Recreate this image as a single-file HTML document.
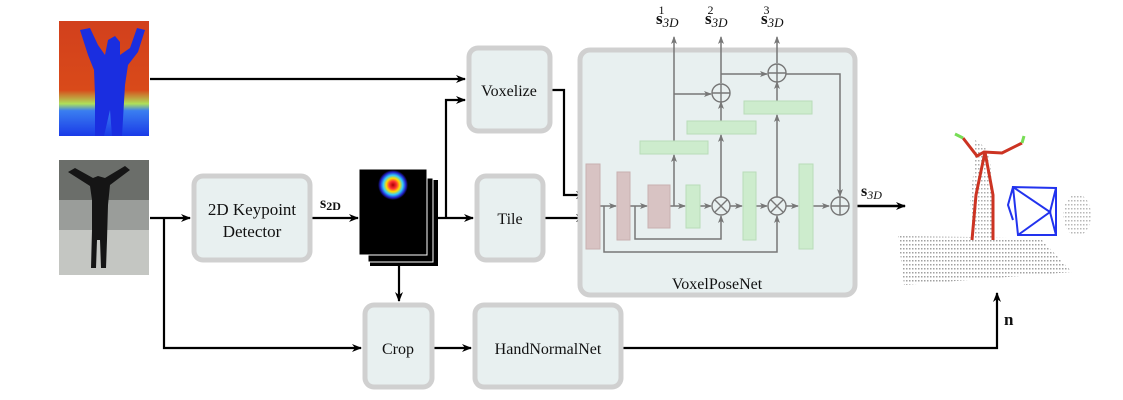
<!DOCTYPE html>
<html><head><meta charset="utf-8"><style>
html,body{margin:0;padding:0;background:#fff;}
svg{display:block;}
text{font-family:"Liberation Serif",serif;fill:#111;}
</style></head><body>
<svg width="1123" height="400" viewBox="0 0 1123 400" xmlns="http://www.w3.org/2000/svg">
<defs>
<marker id="a" markerWidth="10" markerHeight="8" refX="9" refY="4" orient="auto" markerUnits="userSpaceOnUse"><path d="M0,0 L10,4 L0,8 L3,4 z" fill="#000"/></marker>
<marker id="g" markerWidth="8" markerHeight="6" refX="7" refY="3" orient="auto" markerUnits="userSpaceOnUse"><path d="M0,0 L8,3 L0,6 L2,3 z" fill="#777"/></marker>
<radialGradient id="hm"><stop offset="0" stop-color="#a00"/><stop offset="0.25" stop-color="#f33"/><stop offset="0.45" stop-color="#fd0"/><stop offset="0.65" stop-color="#3cf"/><stop offset="0.85" stop-color="#22c"/><stop offset="1" stop-color="#000"/></radialGradient>
<linearGradient id="dep" x1="0" y1="0" x2="0" y2="1"><stop offset="0" stop-color="#d2401c"/><stop offset="0.6" stop-color="#d94a1a"/><stop offset="0.72" stop-color="#aee05a"/><stop offset="0.78" stop-color="#3a7ef0"/><stop offset="1" stop-color="#1a3ae8"/></linearGradient>
<pattern id="dots" width="3" height="4" patternUnits="userSpaceOnUse"><rect width="1.5" height="1.5" fill="#888"/></pattern>
</defs>
<!-- depth image -->
<rect x="59" y="21" width="90" height="115" fill="url(#dep)"/>
<path d="M80,30 L90,28 L98,45 L105,55 L108,40 L115,36 L120,42 L120,55 L130,48 L137,28 L145,30 L138,52 L128,65 L125,85 L122,136 L112,136 L110,110 L104,136 L95,136 L95,95 L94,70 L88,55 Z" fill="#1a2ee0"/>
<!-- rgb image -->
<rect x="59" y="160" width="90" height="115" fill="#9a9d9a"/>
<rect x="59" y="160" width="90" height="40" fill="#6b6e6a"/>
<rect x="59" y="230" width="90" height="45" fill="#c4c6c2"/>
<path d="M68,172 L75,168 L93,178 L98,176 L105,178 L125,166 L130,170 L110,185 L108,205 L107,240 L106,268 L101,268 L100,240 L97,240 L96,268 L91,268 L92,230 L92,200 L90,186 Z" fill="#151515"/>
<!-- connectors -->
<g stroke="#000" stroke-width="2.2" fill="none">
<path d="M150,79 H465" marker-end="url(#a)"/>
<path d="M150,218 H190" marker-end="url(#a)"/>
<path d="M164,218 V348 H361" marker-end="url(#a)"/>
<path d="M312,218 H358" marker-end="url(#a)"/>
<path d="M438,218 H473" marker-end="url(#a)"/>
<path d="M446,218 V100 H465" marker-end="url(#a)"/>
<path d="M552,90 H564 V195 H585" marker-end="url(#a)"/>
<path d="M544,218 H585" marker-end="url(#a)"/>
<path d="M399,266 V301" marker-end="url(#a)"/>
<path d="M434,348 H471" marker-end="url(#a)"/>
<path d="M623,348 H997 V293" marker-end="url(#a)"/>
<path d="M848,206 H905" stroke-width="2.6" marker-end="url(#a)"/>
</g>
<!-- boxes -->
<g fill="#e8f0f0" stroke="#d0d0d0" stroke-width="5">
<rect x="194" y="176" width="116" height="84" rx="9"/>
<rect x="469" y="48" width="81" height="83" rx="9"/>
<rect x="477" y="176" width="66" height="84" rx="9"/>
<rect x="580" y="50" width="275" height="245" rx="10"/>
<rect x="365" y="305" width="67" height="82" rx="9"/>
<rect x="475" y="305" width="146" height="82" rx="9"/>
</g>
<text x="252" y="215" font-size="17" text-anchor="middle">2D Keypoint</text>
<text x="252" y="237" font-size="17" text-anchor="middle">Detector</text>
<text x="509" y="96" font-size="16" text-anchor="middle">Voxelize</text>
<text x="510" y="224" font-size="16" text-anchor="middle">Tile</text>
<text x="398" y="354" font-size="16" text-anchor="middle">Crop</text>
<text x="548" y="354" font-size="16" text-anchor="middle">HandNormalNet</text>
<text x="717" y="289" font-size="16" text-anchor="middle">VoxelPoseNet</text>
<text x="320" y="208" font-size="16" font-weight="bold">s<tspan font-size="12" dy="2">2D</tspan></text>
<!-- heatmap stack -->
<rect x="370" y="180" width="68" height="86" fill="#000"/>
<rect x="368" y="178" width="65" height="84" fill="#000" stroke="#fff" stroke-width="1"/>
<rect x="359" y="169" width="68" height="86" fill="#000" stroke="#fff" stroke-width="1"/>
<circle cx="393" cy="185" r="15" fill="url(#hm)"/>
<!-- VoxelPoseNet internals -->
<g stroke="#777" stroke-width="1.5" fill="none">
<path d="M600,206 H616" marker-end="url(#g)"/>
<path d="M630,206 H647" marker-end="url(#g)"/>
<path d="M670,206 H685" marker-end="url(#g)"/>
<path d="M700,206 H711" marker-end="url(#g)"/>
<path d="M730,206 H742" marker-end="url(#g)"/>
<path d="M756,206 H767" marker-end="url(#g)"/>
<path d="M786,206 H798" marker-end="url(#g)"/>
<path d="M813,206 H829" marker-end="url(#g)"/>
<path d="M604,206 V252 H777 V216" marker-end="url(#g)"/>
<path d="M635,206 V239 H721 V216" marker-end="url(#g)"/>
<path d="M674,206 V155" marker-end="url(#g)"/>
<path d="M674,141 V37" marker-end="url(#g)"/>
<path d="M674,94 H711" marker-end="url(#g)"/>
<path d="M721,197 V135" marker-end="url(#g)"/>
<path d="M721,121 V102" marker-end="url(#g)"/>
<path d="M721,83 V37" marker-end="url(#g)"/>
<path d="M721,74 H767" marker-end="url(#g)"/>
<path d="M777,197 V115" marker-end="url(#g)"/>
<path d="M777,101 V82" marker-end="url(#g)"/>
<path d="M777,63 V37" marker-end="url(#g)"/>
<path d="M786,74 H840 V196" marker-end="url(#g)"/>
</g>
<g fill="#d8c3c3" stroke="#c9b0b0">
<rect x="586" y="164" width="14" height="85"/>
<rect x="617" y="172" width="13" height="68"/>
<rect x="648" y="185" width="22" height="43"/>
</g>
<g fill="#cdeccd" stroke="#b9dcb9">
<rect x="686" y="185" width="14" height="43"/>
<rect x="743" y="172" width="13" height="68"/>
<rect x="799" y="164" width="14" height="85"/>
<rect x="640" y="141" width="68" height="13"/>
<rect x="687" y="121" width="69" height="13"/>
<rect x="744" y="101" width="68" height="13"/>
</g>
<g stroke="#777" stroke-width="1.4" fill="#e8f0f0">
<circle cx="721" cy="206" r="9"/><path d="M715,200 L727,212 M727,200 L715,212"/>
<circle cx="777" cy="206" r="9"/><path d="M771,200 L783,212 M783,200 L771,212"/>
<circle cx="840" cy="206" r="9"/><path d="M831,206 H849 M840,197 V215"/>
<circle cx="721" cy="93" r="9"/><path d="M712,93 H730 M721,84 V102"/>
<circle cx="777" cy="73" r="9"/><path d="M768,73 H786 M777,64 V82"/>
</g>
<g font-size="17" font-weight="bold" fill="#444">
<text x="656" y="24">s<tspan font-size="13" font-style="italic" font-weight="normal" dy="3">3D</tspan><tspan font-size="12" font-weight="normal" dx="-20" dy="-13">1</tspan></text>
<text x="705" y="24">s<tspan font-size="13" font-style="italic" font-weight="normal" dy="3">3D</tspan><tspan font-size="12" font-weight="normal" dx="-20" dy="-13">2</tspan></text>
<text x="761" y="24">s<tspan font-size="13" font-style="italic" font-weight="normal" dy="3">3D</tspan><tspan font-size="12" font-weight="normal" dx="-20" dy="-13">3</tspan></text>
</g>
<text x="861" y="196" font-size="16" font-weight="bold">s<tspan font-size="12" font-style="italic" font-weight="normal" dy="3">3D</tspan></text>
<text x="1004" y="325" font-size="17" font-weight="bold">n</text>
<!-- point cloud -->
<path d="M898,236 L1040,238 L1072,272 L904,285 Z" fill="url(#dots)" opacity="0.8"/>
<ellipse cx="1077" cy="215" rx="14" ry="21" fill="url(#dots)" opacity="0.6"/>
<path d="M975,140 L985,147 L990,160 L993,200 L992,240 L972,240 L970,200 L975,160 Z" fill="url(#dots)" opacity="0.7"/>
<g stroke="#cc3322" stroke-width="3" fill="none">
<path d="M963,138 L977,156 L984,152 L1002,153 L1022,143"/>
<path d="M985,152 L976,195 L972,240 M985,152 L993,195 L993,240"/>
</g>
<path d="M955,134 L963,138 M1022,143 L1024,136" stroke="#77dd55" stroke-width="3"/>
<g stroke="#2233ee" stroke-width="2" fill="none">
<path d="M1013,187 L1056,188 L1056,235 L1018,235 Z M1013,187 L1050,212 L1018,235 M1050,212 L1056,188 M1050,212 L1056,235 M1013,187 L1008,205 L1013,220"/>
</g>
</svg>
</body></html>
